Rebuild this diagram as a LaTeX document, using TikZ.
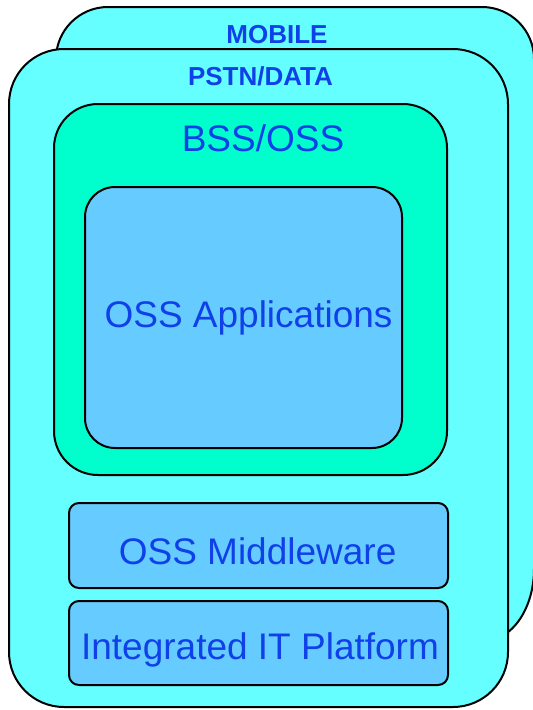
\documentclass[tikz,border=0pt]{standalone}
\usepackage{fontspec}
\setmainfont{Liberation Sans}

\definecolor{netcyan}{HTML}{66FFFF}
\definecolor{bssgreen}{HTML}{00FFCC}
\definecolor{appblue}{HTML}{66CCFF}
\definecolor{labelblue}{RGB}{16,64,232}

\tikzset{
  box/.style={draw=black, line width=2pt, inner sep=0pt, outer sep=0pt},
  biglabel/.style={anchor=base, inner sep=0pt, text=labelblue,
                   font=\fontsize{37}{40}\selectfont},
  toplabel/.style={anchor=base, inner sep=0pt, text=labelblue,
                   font=\bfseries\fontsize{26}{28}\selectfont},
}

\begin{document}
\begin{tikzpicture}[x=1pt,y=-1pt]
\useasboundingbox (0,0) rectangle (533,710);
\clip (0,0) rectangle (533,710);

% mobile network layer, behind the fixed network layer
\draw[box, fill=netcyan]
  (56,59) arc[start angle=180, end angle=270, radius=52]
  -- (482,7) arc[start angle=270, end angle=360, radius=52]
  -- (534,569) arc[start angle=0, end angle=90, x radius=50, y radius=72]
  -- (108,641) arc[start angle=90, end angle=180, radius=52]
  -- cycle;

% fixed network layer
\node[box, fill=netcyan, rounded corners=55,
      minimum width=499, minimum height=658] (pstn) at (258.5,378) {};

% BSS/OSS block with the applications inside
\node[box, fill=bssgreen, rounded corners=44,
      minimum width=393, minimum height=371] (bss) at (250.5,289.5) {};
\node[box, fill=appblue, rounded corners=30,
      minimum width=317, minimum height=261] (apps) at (243.5,317.5) {};

% lower layers
\node[box, fill=appblue, rounded corners=10,
      minimum width=379, minimum height=85] (mid) at (258.5,545.5) {};
\node[box, fill=appblue, rounded corners=10,
      minimum width=379, minimum height=84] (plat) at (258.5,643) {};

% labels
\node[toplabel] (mobiletxt) at (277,43.5) {MOBILE};
\node[toplabel] (pstntxt) at (260.5,85) {PSTN/DATA};
\node[biglabel] (bsstxt) at (263,151) {BSS/OSS};
\node[biglabel] (appstxt) at (248.5,327) {OSS Applications};
\node[biglabel] (midtxt) at (257.6,564) {OSS Middleware};
\node[biglabel] (plattxt) at (260,659) {Integrated IT Platform};
\end{tikzpicture}
\end{document}
